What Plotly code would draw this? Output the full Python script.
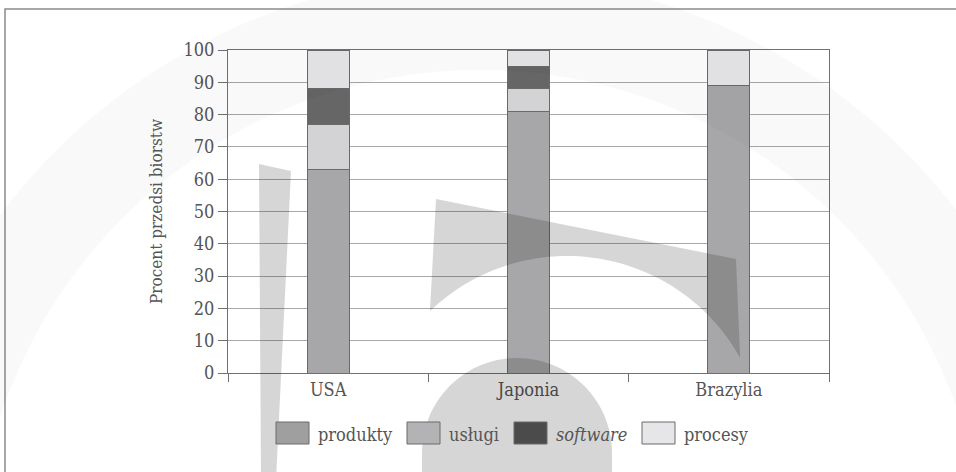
import math
import plotly.graph_objects as go

# Data: share of firms (%) by innovation type
countries = ["USA", "Japonia", "Brazylia"]
produkty = [63, 81, 89]
uslugi = [14, 7, 0]
software = [11, 7, 0]
procesy = [12, 5, 11]

series_names = ["produkty", "usługi", "software", "procesy"]
series_values = [produkty, uslugi, software, procesy]
bar_colors = ["#a7a7a9", "#d3d3d5", "#666666", "#e7e7e9"]
legend_colors = ["#9f9f9f", "#b3b3b5", "#4b4b4b", "#e6e6e8"]
legend_labels = ["produkty", "usługi", "<i>software</i>", "procesy"]

y_ticks = list(range(0, 101, 10))

FONT = "'DejaVu Serif Condensed', 'DejaVu Serif', serif"
TXT = "#555555"

W, H = 956, 472
pl, pr, pt, pb = 228, 127, 50, 99
pw, ph = W - pl - pr, H - pt - pb


def px(x):
    return (x - pl) / pw


def py(y):
    return (H - pb - y) / ph


def path_from(points):
    parts = [f"{'M' if i == 0 else 'L'} {px(x):.5f},{py(y):.5f}"
             for i, (x, y) in enumerate(points)]
    return " ".join(parts) + " Z"


def arc(cx, cy, r, a0, a1, n=60):
    # angles in degrees, screen coordinates (y down)
    return [(cx + r * math.cos(math.radians(a0 + (a1 - a0) * k / n)),
             cy + r * math.sin(math.radians(a0 + (a1 - a0) * k / n)))
            for k in range(n + 1)]


fig = go.Figure()
for name, vals, col in zip(series_names, series_values, bar_colors):
    fig.add_trace(go.Bar(
        x=countries, y=vals, name=name,
        marker=dict(color=col, line=dict(color="#6a6a6a", width=1)),
        width=0.21, showlegend=False,
    ))

# Outer frame
fig.add_shape(type="rect", xref="paper", yref="paper",
              x0=px(5), x1=px(990), y0=py(9), y1=py(500),
              line=dict(color="#8a8a8a", width=1.5), layer="below")

# Faint background emblem
ring = arc(480, 575, 600, 180, 360, 120) + arc(480, 575, 505, 360, 180, 120)
fig.add_shape(type="path", xref="paper", yref="paper", path=path_from(ring),
              fillcolor="rgba(0,0,0,0.022)", line=dict(width=0), layer="above")

shade = "rgba(0,0,0,0.16)"
band = [(259, 164), (291, 171), (276, 480), (261, 480)]
fig.add_shape(type="path", xref="paper", yref="paper", path=path_from(band),
              fillcolor=shade, line=dict(width=0), layer="above")

hook_arc = arc(567, 454, 198, -29.0, -133.8, 60)  # from right tip to left end
hook = [(436, 199), (736, 259)] + hook_arc
fig.add_shape(type="path", xref="paper", yref="paper", path=path_from(hook),
              fillcolor=shade, line=dict(width=0), layer="above")

dome = [(422, 480)] + arc(517, 453, 95, 180, 360, 60) + [(612, 480)]
fig.add_shape(type="path", xref="paper", yref="paper", path=path_from(dome),
              fillcolor=shade, line=dict(width=0), layer="above")

# Custom legend with large swatches
box_x = [276, 407, 514, 642]
for bx, col, lab in zip(box_x, legend_colors, legend_labels):
    fig.add_shape(type="rect", xref="paper", yref="paper",
                  x0=px(bx), x1=px(bx + 33), y0=py(422), y1=py(444),
                  fillcolor=col, line=dict(color="#6a6a6a", width=1))
    fig.add_annotation(xref="paper", yref="paper", x=px(bx + 40), y=py(434),
                       text=lab, showarrow=False, xanchor="left", yanchor="middle",
                       font=dict(family=FONT, size=18, color=TXT))

fig.update_layout(
    width=W, height=H,
    margin=dict(l=pl, r=pr, t=pt, b=pb),
    barmode="stack",
    paper_bgcolor="white", plot_bgcolor="rgba(0,0,0,0)",
    font=dict(family=FONT, size=18, color=TXT),
    showlegend=False,
)
fig.update_xaxes(
    showline=True, linecolor="#707070", linewidth=1, mirror=True,
    ticks="outside", tickson="boundaries", ticklen=8, tickcolor="#707070",
    showgrid=False, tickfont=dict(family=FONT, size=18, color=TXT),
)
fig.update_yaxes(
    range=[0, 100], tickvals=y_ticks,
    showline=True, linecolor="#707070", linewidth=1, mirror=True,
    ticks="outside", ticklen=9, tickcolor="#707070",
    showgrid=True, gridcolor="#a8a8a8", gridwidth=1, zeroline=False,
    tickfont=dict(family=FONT, size=18, color=TXT),
    title=dict(text="Procent przedsi biorstw", standoff=16,
               font=dict(family=FONT, size=17, color=TXT)),
)

fig.write_html("out.html")
